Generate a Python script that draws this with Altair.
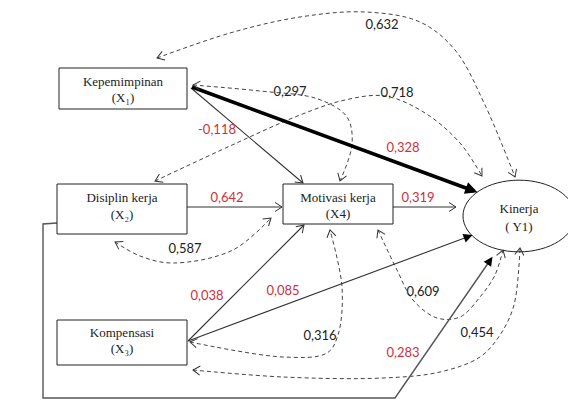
import math
import altair as alt
import pandas as pd

# ---------------- nodes ----------------
box_names = ["Kepemimpinan", "Disiplin kerja", "Kompensasi", "Motivasi kerja"]
box_subs = ["(X₁)", "(X₂)", "(X₃)", "(X4)"]
box_x1 = [59, 57, 57, 283]
box_x2 = [187, 187, 187, 393]
box_y1 = [68, 184, 320, 184]
box_y2 = [109, 234, 365, 224]
box_label_x = [123, 122, 122, 338]
box_label_y1 = [82, 198, 333, 198]
box_label_y2 = [98, 215, 349, 214]

ell_name = ["Kinerja"]
ell_sub = ["( Y1)"]
ell_cx = [519]
ell_cy = [216]
ell_label_y1 = [209]
ell_label_y2 = [227]

# ---------------- coefficients ----------------
coef_text = ["0,632", "0,297", "0,718", "-0,118", "0,328", "0,642", "0,319",
             "0,587", "0,038", "0,085", "0,316", "0,609", "0,283", "0,454"]
coef_x = [382, 290, 397, 217, 403, 227, 418, 185, 207, 283, 320, 423, 403, 477]
coef_y = [25, 92, 93, 130, 148, 198, 198, 249, 296, 291, 336, 292, 353, 333]
coef_red = [False, False, False, True, True, True, True,
            False, True, True, False, False, True, False]

# ---------------- paths (waypoints) ----------------
thick_x1_y1 = [(192, 87), (474, 191)]
thin_paths = {
    "x1_x4": [(191, 88), (303, 183)],
    "x2_x4": [(187, 207), (282, 207)],
    "x4_y1": [(393, 207), (456, 207)],
    "x3_x4": [(188, 341), (304, 225)],
}
x3_y1 = [(188, 341), (470, 236)]
x2_y1 = [(57, 223), (43, 224), (43, 398), (395, 398), (491, 259)]

curves = {
    "c632": [(157, 58), (230, 33), (300, 17), (365, 12), (420, 22), (455, 50), (485, 105), (515, 177)],
    "c297": [(193, 85), (260, 91), (318, 99), (347, 117), (352, 145), (340, 181)],
    "c718": [(155, 181), (230, 146), (300, 115), (345, 100), (385, 96), (425, 113), (460, 143), (482, 176)],
    "c587": [(115, 242), (140, 256), (173, 263), (233, 250), (271, 218)],
    "c316": [(190, 342), (283, 357), (327, 353), (338, 335), (342, 287), (330, 230)],
    "c609": [(378, 230), (397, 270), (413, 300), (437, 318), (460, 317), (480, 297), (495, 275), (503, 250)],
    "c454": [(193, 370), (283, 377), (383, 378), (440, 372), (480, 357), (500, 335), (514, 305), (520, 248)],
}

# ---------------- build tables ----------------
def path_rows(pid, pts):
    return [{"pid": pid, "i": i, "x": p[0], "y": p[1]} for i, p in enumerate(pts)]

def ang(a, b):
    return math.degrees(math.atan2(b[1] - a[1], b[0] - a[0])) % 360

thin_rows = []
for k, v in thin_paths.items():
    thin_rows += path_rows(k, v)
thin_rows += path_rows("x3_y1", x3_y1)
thin_df = pd.DataFrame(thin_rows)
thick_df = pd.DataFrame(path_rows("x1_y1", thick_x1_y1))
frame_df = pd.DataFrame(path_rows("x2_y1", x2_y1))
curve_rows = []
for k, v in curves.items():
    curve_rows += path_rows(k, v)
curve_df = pd.DataFrame(curve_rows)

open_arrows = []
for v in thin_paths.values():
    open_arrows.append({"x": v[-1][0], "y": v[-1][1], "a": ang(v[-2], v[-1])})
for v in curves.values():
    open_arrows.append({"x": v[-1][0], "y": v[-1][1], "a": ang(v[-2], v[-1])})
    open_arrows.append({"x": v[0][0], "y": v[0][1], "a": ang(v[1], v[0])})
open_df = pd.DataFrame(open_arrows)

small_filled = pd.DataFrame([
    {"x": x3_y1[-1][0], "y": x3_y1[-1][1], "a": ang(x3_y1[-2], x3_y1[-1])},
    {"x": x2_y1[-1][0], "y": x2_y1[-1][1], "a": ang(x2_y1[-2], x2_y1[-1])},
])
big_filled = pd.DataFrame([
    {"x": thick_x1_y1[-1][0], "y": thick_x1_y1[-1][1], "a": ang(thick_x1_y1[0], thick_x1_y1[1])},
])

box_df = pd.DataFrame({"name": box_names, "sub": box_subs, "x1": box_x1, "x2": box_x2,
                       "y1": box_y1, "y2": box_y2, "lx": box_label_x,
                       "ly1": box_label_y1, "ly2": box_label_y2})
ell_df = pd.DataFrame({"name": ell_name, "sub": ell_sub, "x": ell_cx, "y": ell_cy,
                       "ly1": ell_label_y1, "ly2": ell_label_y2})
coef_df = pd.DataFrame({"t": coef_text, "x": coef_x, "y": coef_y, "red": coef_red})

# ---------------- encodings ----------------
XS = alt.Scale(domain=[8, 568], nice=False, zero=False)
YS = alt.Scale(domain=[8, 399], nice=False, zero=False, reverse=True)

def X(f="x"):
    return alt.X(f"{f}:Q", scale=XS, axis=None)

def Y(f="y"):
    return alt.Y(f"{f}:Q", scale=YS, axis=None)

SERIF = "Liberation Serif, DejaVu Serif, serif"
OPEN = "M-1,-0.65L0,0L-1,0.65"
FILLED = "M-0.7,-0.5L0.3,0L-0.7,0.5Z"
ELLIPSE = ("M1,0C1,0.354 0.552,0.64 0,0.64C-0.552,0.64 -1,0.354 -1,0"
           "C-1,-0.354 -0.552,-0.64 0,-0.64C0.552,-0.64 1,-0.354 1,0Z")

curves_layer = alt.Chart(curve_df).mark_line(
    interpolate="catmull-rom", strokeDash=[4, 3], color="#444", strokeWidth=1
).encode(x=X(), y=Y(), detail="pid:N", order="i:Q")

thin_layer = alt.Chart(thin_df).mark_line(color="#333", strokeWidth=1.1).encode(
    x=X(), y=Y(), detail="pid:N", order="i:Q")

frame_layer = alt.Chart(frame_df).mark_line(color="#555", strokeWidth=1.4).encode(
    x=X(), y=Y(), detail="pid:N", order="i:Q")

thick_layer = alt.Chart(thick_df).mark_line(color="#000", strokeWidth=3.6).encode(
    x=X(), y=Y(), detail="pid:N", order="i:Q")

open_layer = alt.Chart(open_df).mark_point(
    shape=OPEN, filled=False, stroke="#333", strokeWidth=1, size=196, opacity=1
).encode(x=X(), y=Y(), angle=alt.Angle("a:Q", scale=None))

small_filled_layer = alt.Chart(small_filled).mark_point(
    shape=FILLED, filled=True, fill="#000", strokeWidth=0, size=324, opacity=1
).encode(x=X(), y=Y(), angle=alt.Angle("a:Q", scale=None))

big_filled_layer = alt.Chart(big_filled).mark_point(
    shape=FILLED, filled=True, fill="#000", strokeWidth=0, size=600, opacity=1
).encode(x=X(), y=Y(), angle=alt.Angle("a:Q", scale=None))

box_layer = alt.Chart(box_df).mark_rect(fill="white", stroke="#222", strokeWidth=1).encode(
    x=X("x1"), x2="x2:Q", y=Y("y1"), y2="y2:Q")

box_t1 = alt.Chart(box_df).mark_text(font=SERIF, fontSize=13, color="#222",
                                     align="center", baseline="middle").encode(
    x=X("lx"), y=Y("ly1"), text="name:N")
box_t2 = alt.Chart(box_df).mark_text(font=SERIF, fontSize=13, color="#222",
                                     align="center", baseline="middle").encode(
    x=X("lx"), y=Y("ly2"), text="sub:N")

ell_layer = alt.Chart(ell_df).mark_point(
    shape=ELLIPSE, filled=False, stroke="#222", strokeWidth=1, size=112 * 112, opacity=1
).encode(x=X(), y=Y())
ell_t1 = alt.Chart(ell_df).mark_text(font=SERIF, fontSize=13, color="#222",
                                     align="center", baseline="middle").encode(
    x=X(), y=Y("ly1"), text="name:N")
ell_t2 = alt.Chart(ell_df).mark_text(font=SERIF, fontSize=13, color="#222",
                                     align="center", baseline="middle").encode(
    x=X(), y=Y("ly2"), text="sub:N")

coef_layer = alt.Chart(coef_df).mark_text(font="Lato", fontSize=13,
                                          align="center", baseline="middle").encode(
    x=X(), y=Y(), text="t:N",
    color=alt.Color("red:N", scale=alt.Scale(domain=[False, True], range=["#222222", "#d0303a"]),
                    legend=None))

chart = alt.layer(
    curves_layer, thin_layer, frame_layer, thick_layer,
    box_layer, ell_layer,
    open_layer, small_filled_layer, big_filled_layer,
    box_t1, box_t2, ell_t1, ell_t2, coef_layer
).properties(
    width=560, height=391, padding=0,
    autosize=alt.AutoSizeParams(type="none"), background="white"
).configure_view(stroke=None)

chart.save("out.html", embed_options={"renderer": "svg", "actions": False})
